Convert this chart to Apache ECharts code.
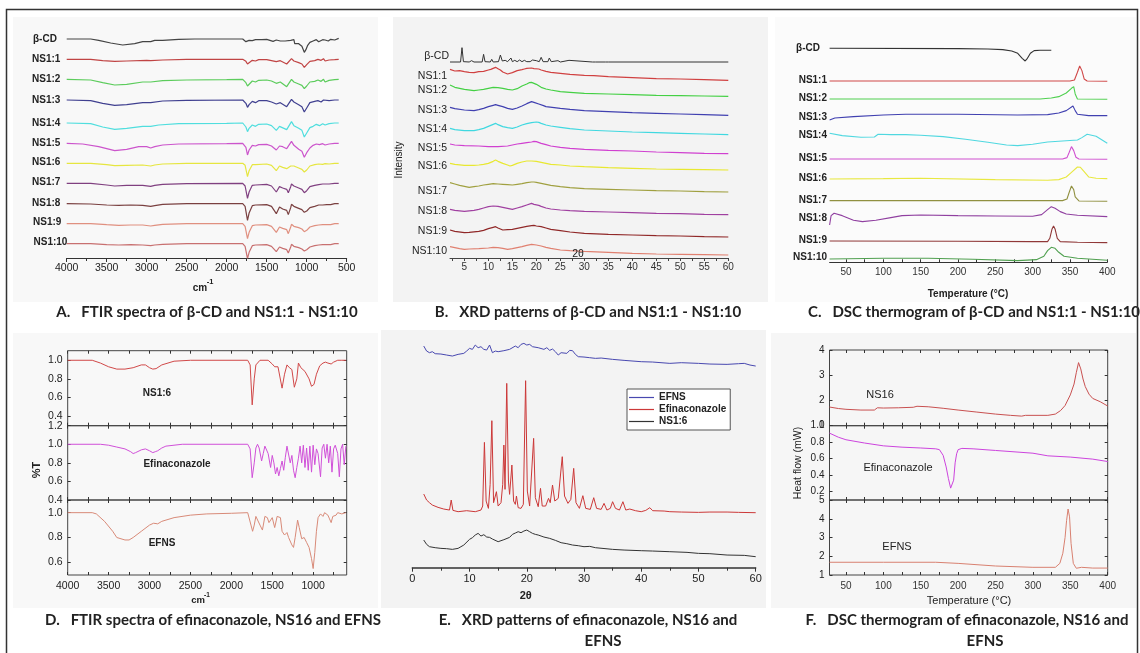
<!DOCTYPE html>
<html>
<head>
<meta charset="utf-8">
<script src="https://cdn.jsdelivr.net/npm/echarts@6/dist/echarts.min.js"></script>
<style>
  html, body { margin: 0; padding: 0; background: #fff; }
  #chart { width: 1140px; height: 653px; }
</style>
</head>
<body>
<div id="chart"></div>
<script>
// ---- A. FTIR of beta-CD and NS1:1 - NS1:10 (stacked traces, arbitrary units) ----
const ftirNames = ["β-CD", "NS1:1", "NS1:2", "NS1:3", "NS1:4", "NS1:5", "NS1:6", "NS1:7", "NS1:8", "NS1:9", "NS1:10"];
const ftirOffsets = [657, 596, 536, 474, 405, 344, 284, 224, 163, 103, 43];
const ftirTicks = [4000, 3500, 3000, 2500, 2000, 1500, 1000, 500];
// [wavenumber, shift from baseline]
const ftirCurves = [
  [[4000,0],[3700,0],[3600,-4],[3450,-12],[3300,-18],[3150,-14],[3050,-8],[2950,-8],[2900,-4],[2800,-4],[2600,-1],[2400,0],[1800,0],[1760,-8],[1720,-4],[1680,-5],[1640,-2],[1560,-2],[1500,-1],[1420,-7],[1380,-3],[1330,-6],[1270,-6],[1200,-4],[1160,-2],[1150,-14],[1130,-8],[1100,-14],[1060,-22],[1030,-40],[1010,-32],[990,-20],[960,-10],[920,-6],[880,-2],[850,-8],[800,-2],[770,-3],[730,-6],[700,-1],[650,-3],[600,2]],
  [[4000,0],[3700,0],[3550,-4],[3400,-6],[3250,-5],[3000,-3],[2950,-4],[2800,-2],[2500,0],[1800,0],[1760,-6],[1740,-14],[1720,-10],[1680,-3],[1640,-5],[1600,-1],[1500,-1],[1440,-4],[1380,-7],[1330,-4],[1250,-14],[1230,-12],[1190,2],[1160,-5],[1100,-10],[1060,-14],[1030,-24],[1000,-16],[960,-6],[900,-4],[860,0],[820,-3],[790,2],[770,-5],[720,-2],[650,-1],[600,0]],
  [[4000,0],[3700,-2],[3550,-10],[3400,-17],[3250,-15],[3050,-8],[2950,-8],[2800,-4],[2500,-2],[2000,-1],[1800,0],[1760,-10],[1740,-20],[1720,-14],[1680,-5],[1640,-8],[1600,-3],[1500,-2],[1440,-5],[1380,-12],[1330,-8],[1250,-22],[1230,-18],[1190,0],[1160,-8],[1100,-14],[1060,-18],[1030,-28],[1000,-20],[960,-8],[900,-6],[860,-2],[820,-6],[790,0],[770,-8],[720,-3],[650,-1],[600,0]],
  [[4000,0],[3700,-2],[3550,-10],[3400,-16],[3250,-14],[3050,-8],[2950,-8],[2800,-3],[2500,-1],[1800,0],[1760,-10],[1740,-22],[1720,-14],[1680,-4],[1640,-8],[1600,-2],[1500,-2],[1440,-6],[1380,-12],[1330,-8],[1250,-20],[1230,-18],[1190,2],[1160,-6],[1100,-14],[1060,-20],[1030,-36],[1000,-24],[960,-8],[900,-4],[860,-2],[820,-6],[790,0],[770,-6],[720,-2],[650,0],[600,0]],
  [[4000,0],[3700,-2],[3550,-12],[3400,-19],[3250,-16],[3050,-10],[2950,-10],[2850,-6],[2600,-2],[2000,-1],[1800,0],[1760,-12],[1740,-26],[1720,-16],[1680,-6],[1640,-10],[1600,-4],[1500,-3],[1440,-8],[1380,-22],[1340,-10],[1250,-20],[1230,-18],[1190,4],[1160,-8],[1100,-16],[1060,-22],[1030,-42],[1000,-30],[960,-14],[920,-10],[880,-4],[840,-8],[800,-2],[770,-6],[720,-2],[650,0],[600,0]],
  [[4000,0],[3800,-2],[3600,-10],[3400,-22],[3250,-18],[3100,-10],[3000,-10],[2950,-14],[2900,-10],[2800,-5],[2600,-2],[2000,-1],[1800,0],[1760,-12],[1740,-35],[1720,-20],[1680,-6],[1640,-8],[1600,-4],[1500,-3],[1440,-8],[1380,-20],[1340,-8],[1300,-10],[1250,-16],[1230,-14],[1190,6],[1160,-6],[1100,-18],[1060,-24],[1030,-42],[1000,-28],[960,-14],[920,-6],[880,-2],[840,-4],[800,-1],[770,-5],[720,-2],[650,0],[600,0]],
  [[4000,0],[3700,0],[3500,-4],[3400,-7],[3250,-6],[3050,-5],[2950,-8],[2900,-5],[2800,-2],[2500,0],[1800,0],[1770,-6],[1740,-40],[1720,-22],[1680,-4],[1640,-4],[1500,-2],[1440,-6],[1380,-22],[1340,-8],[1300,-12],[1250,-16],[1230,-22],[1200,-8],[1190,-2],[1160,-8],[1100,-14],[1060,-18],[1030,-26],[1000,-20],[960,-8],[900,-4],[850,-2],[800,-3],[770,-1],[720,-2],[650,0],[600,0]],
  [[4000,0],[3700,0],[3500,-5],[3400,-8],[3250,-6],[3050,-6],[2950,-9],[2900,-6],[2800,-3],[2500,-1],[1800,0],[1770,-8],[1740,-45],[1720,-26],[1680,-6],[1640,-5],[1500,-3],[1440,-8],[1380,-26],[1340,-10],[1300,-14],[1250,-18],[1230,-28],[1200,-10],[1190,-2],[1160,-8],[1100,-14],[1060,-18],[1030,-28],[1000,-22],[960,-10],[900,-6],[850,-4],[800,-2],[780,-5],[720,-2],[650,0],[600,0]],
  [[4000,0],[3700,-1],[3500,-4],[3350,-5],[3200,-4],[3050,-5],[2950,-8],[2900,-6],[2800,-2],[2500,0],[1800,0],[1770,-8],[1740,-50],[1720,-28],[1680,-6],[1640,-4],[1500,-3],[1440,-8],[1380,-30],[1340,-10],[1300,-16],[1250,-20],[1230,-33],[1200,-12],[1190,-2],[1160,-8],[1100,-14],[1060,-18],[1030,-26],[1000,-22],[960,-12],[900,-8],[850,-4],[800,-4],[780,-10],[750,-3],[700,-3],[650,0],[600,0]],
  [[4000,0],[3700,0],[3500,-3],[3350,-5],[3200,-4],[3050,-4],[2950,-7],[2900,-5],[2800,-2],[2500,0],[1800,0],[1770,-8],[1740,-45],[1720,-26],[1680,-6],[1640,-4],[1500,-3],[1440,-8],[1380,-26],[1340,-10],[1300,-14],[1250,-18],[1230,-30],[1200,-10],[1190,-2],[1160,-8],[1100,-12],[1060,-16],[1030,-24],[1000,-20],[960,-10],[900,-6],[850,-4],[800,-3],[780,-9],[750,-3],[700,-3],[650,0],[600,0]],
  [[4000,0],[3700,0],[3500,-3],[3350,-4],[3200,-3],[3050,-4],[2950,-6],[2900,-4],[2800,-2],[2500,0],[1800,0],[1770,-8],[1740,-45],[1720,-26],[1680,-6],[1640,-4],[1500,-3],[1440,-8],[1380,-24],[1340,-10],[1300,-14],[1250,-18],[1230,-28],[1200,-10],[1190,-2],[1160,-8],[1100,-12],[1060,-16],[1030,-22],[1000,-18],[960,-10],[900,-6],[850,-4],[800,-3],[780,-9],[750,-3],[700,-3],[650,0],[600,0]]
];

// ---- B. XRD of beta-CD and NS1:1 - NS1:10 ----
const xrdTicks = [5, 10, 15, 20, 25, 30, 35, 40, 45, 50, 55, 60];
const xrdBcdBase = 588;
const xrdBcdPeaks = [[2,0],[4.2,0],[4.5,43],[4.8,1],[6,0],[6.5,4],[7,0],[8.7,0],[9,23],[9.3,1],[10.4,0],[10.7,8],[11,0],[12.1,1],[12.5,21],[12.9,3],[13.5,5],[14,1],[14.4,0],[14.7,12],[15,1],[15.5,5],[16,1],[16.5,6],[17,1],[17.5,5],[18,1],[18.3,6],[18.7,1],[19.2,6],[19.6,1],[20,4],[20.6,1],[21,14],[21.4,1],[22.4,1],[22.7,12],[23.1,1],[24.5,4],[25,0],[26.8,5],[27.2,0],[31.7,0],[32,6],[32.3,0],[34.4,0],[34.7,6],[35,0],[60,0]];
const xrdCurves = [
  [[2,566],[3,561],[4,562],[5,559],[6,557],[7,556],[8,559],[9,560],[10,564],[10.5,566],[11,569],[11.5,572],[12,568],[12.5,564],[13,558],[14,552],[15,556],[16,562],[17,565],[17.5,567],[18,569],[19,570],[19.5,568],[20.5,567],[21,564],[22,560],[23,557],[25,554],[27,551],[30,548],[32,547],[35,544],[40,541],[45,538],[50,537],[55,535],[60,533]],
  [[2,519],[3,512],[5,506],[7,502],[8,504],[9,506],[10,509],[11,512],[12,511],[13,509],[14,506],[15,504],[16,508],[17,516],[18,522],[18.5,526],[19,527],[19.5,524],[20,521],[21,512],[22,507],[23,504],[25,499],[27,497],[30,494],[35,492],[40,490],[45,488],[50,487],[55,486],[60,485]],
  [[2,452],[3,448],[5,444],[7,442],[8,445],[9,449],[10,454],[11,458],[11.5,460],[12,458],[13,454],[14,449],[15,446],[16,450],[17,456],[18,463],[19,469],[19.5,467],[20.5,462],[21.5,457],[22,454],[25,449],[27,446],[30,442],[35,439],[40,436],[45,434],[50,432],[55,430],[60,428]],
  [[2,389],[3,385],[5,382],[7,382],[8,385],[9,389],[10,395],[11,401],[11.5,404],[12,400],[13,394],[14,391],[15,389],[16,393],[17,399],[18,403],[19,406],[20,408],[20.5,407],[21,404],[22,399],[23,396],[25,392],[27,388],[30,384],[35,381],[40,378],[45,376],[50,374],[55,372],[60,370]],
  [[2,342],[3,339],[5,337],[8,336],[10,334],[12,334],[14,336],[15,339],[16,342],[17,344],[18,346],[19,348],[19.5,350],[20,349],[21,344],[22,340],[23,336],[25,332],[27,329],[30,326],[35,323],[40,321],[45,318],[50,316],[55,314],[60,313]],
  [[2,284],[3,281],[5,278],[7,278],[8,279],[9,281],[10,284],[11,290],[11.5,294],[12,290],[13,284],[14,279],[14.5,276],[15,278],[16,284],[17,288],[18,291],[19,291],[20,290],[21,287],[22,284],[23,281],[25,279],[27,276],[30,274],[35,271],[40,269],[45,267],[50,266],[55,265],[60,264]],
  [[2,226],[3,222],[4,218],[5,215],[6,212],[7,214],[8,216],[9,219],[10,221],[11,223],[12,222],[13,221],[14,220],[15,219],[16,221],[17,223],[18,226],[19,228],[19.5,228],[20,227],[21,224],[22,221],[23,218],[25,214],[27,211],[30,208],[35,206],[40,204],[45,202],[50,201],[55,199],[60,198]],
  [[2,146],[3,143],[5,140],[7,143],[8,146],[9,150],[10,154],[11,156],[12,155],[13,152],[14,149],[15,146],[16,150],[17,154],[18,159],[19,164],[19.5,161],[20.5,158],[21,155],[22,150],[23,147],[25,144],[27,142],[30,140],[35,138],[40,136],[45,134],[50,133],[55,131],[60,130]],
  [[2,84],[3,80],[5,76],[6,77],[8,80],[9,83],[10,88],[11,92],[11.5,94],[12,90],[13,84],[14,85],[15,86],[16,89],[17,92],[18,95],[19,97],[19.5,98],[20,96],[21,94],[22,90],[23,86],[25,82],[27,78],[30,74],[35,71],[40,69],[45,67],[50,66],[55,64],[60,63]],
  [[2,34],[3,31],[4,28],[5,26],[6,27],[8,28],[10,30],[11,32],[12,31],[13,29],[14,26],[15,28],[16,31],[17,34],[18,38],[19,41],[20,39],[21,36],[22,32],[23,29],[25,24],[27,22],[30,20],[35,17],[40,14],[45,12],[50,11],[55,10],[60,9]]
];

// ---- C. DSC of beta-CD and NS1:1 - NS1:10 ----
const dscTicks = [50, 100, 150, 200, 250, 300, 350, 400];
const dscCurves = [
  [[28,642],[200,641],[240,640],[260,638],[272,634],[280,627],[286,612],[290,604],[293,612],[297,627],[302,635],[310,636],[325,636]],
  [[28,544],[350,544],[356,547],[360,570],[363,589],[366,575],[369,550],[373,544],[400,543]],
  [[28,490],[310,490],[325,493],[335,497],[345,508],[352,522],[355,527],[357,505],[360,490],[400,489]],
  [[28,427],[35,433],[60,437],[100,442],[130,444],[200,444],[280,442],[320,443],[335,448],[345,455],[354,469],[357,455],[360,444],[375,440],[400,440]],
  [[28,387],[45,380],[70,375],[88,376],[93,384],[110,383],[130,383],[150,381],[180,377],[210,369],[240,360],[265,352],[280,350],[300,354],[320,361],[340,364],[360,367],[366,374],[373,384],[385,378],[400,357]],
  [[28,310],[340,310],[346,314],[349,330],[352,347],[355,335],[358,315],[362,310],[400,309]],
  [[28,250],[100,251],[150,252],[250,248],[320,246],[335,248],[345,256],[352,270],[360,286],[364,285],[369,272],[375,256],[385,252],[400,251]],
  [[28,185],[340,185],[346,190],[349,210],[352,229],[355,218],[357,196],[362,184],[400,183]],
  [[28,112],[30,140],[34,147],[45,140],[60,126],[72,122],[90,126],[110,134],[125,140],[150,142],[200,140],[250,139],[300,138],[312,143],[320,158],[325,167],[330,162],[337,152],[345,145],[360,141],[400,137]],
  [[28,64],[200,63],[300,62],[320,62],[323,72],[326,100],[328,109],[330,100],[333,72],[337,62],[360,60],[400,59]],
  [[28,10],[100,12],[160,12],[220,9],[280,5],[305,8],[315,18],[320,35],[325,45],[330,42],[335,30],[342,18],[360,12],[400,6]]
];

// ---- D. FTIR of efinaconazole, NS1:6 and EFNS (%T) ----
const irTicks = [4000, 3500, 3000, 2500, 2000, 1500, 1000];
const irNs16 = [[4000,1.0],[3700,1.0],[3600,0.97],[3500,0.93],[3400,0.905],[3300,0.905],[3200,0.92],[3100,0.95],[3050,0.95],[3000,0.92],[2960,0.905],[2920,0.91],[2850,0.95],[2700,0.99],[2500,1.0],[1800,1.0],[1770,0.95],[1745,0.52],[1720,0.8],[1700,0.95],[1650,1.0],[1550,1.0],[1500,0.96],[1470,0.93],[1430,0.93],[1380,0.70],[1350,0.85],[1320,0.95],[1290,0.92],[1260,0.9],[1230,0.71],[1200,0.80],[1180,0.97],[1150,0.92],[1100,0.88],[1050,0.8],[1020,0.72],[990,0.74],[960,0.85],[920,0.94],[880,0.97],[850,0.98],[820,0.97],[800,0.99],[780,0.96],[750,0.98],[700,1.0],[650,1.0],[600,1.0]];
const irEfina = [[4000,1.0],[3600,1.0],[3500,0.99],[3400,0.97],[3300,0.95],[3230,0.92],[3200,0.90],[3170,0.91],[3150,0.93],[3100,0.94],[3050,0.95],[3000,0.93],[2960,0.91],[2930,0.92],[2900,0.93],[2850,0.96],[2800,0.98],[2600,1.0],[1800,1.0],[1770,0.95],[1745,0.64],[1720,0.8],[1700,0.96],[1680,1.0],[1660,0.96],[1630,0.82],[1610,0.9],[1590,0.98],[1570,0.97],[1550,0.90],[1520,0.75],[1500,0.88],[1480,0.8],[1460,0.68],[1440,0.75],[1420,0.66],[1400,0.74],[1380,0.82],[1360,0.72],[1340,0.86],[1320,0.98],[1300,0.97],[1280,0.8],[1260,0.88],[1240,0.72],[1220,0.64],[1200,0.75],[1180,0.85],[1160,0.98],[1140,0.8],[1120,0.99],[1100,0.75],[1080,0.96],[1060,0.72],[1040,0.98],[1020,0.70],[1000,0.99],[980,0.78],[960,0.95],[940,0.90],[910,0.65],[890,0.96],[870,1.0],[850,0.85],[830,1.0],[810,0.80],[790,0.98],[770,0.70],[750,0.95],[730,0.99],[700,0.90],[680,0.65],[660,0.95],[640,1.0],[620,0.78],[600,0.98]];
const irEfns = [[4000,1.0],[3700,1.0],[3650,0.99],[3550,0.93],[3450,0.85],[3400,0.80],[3300,0.78],[3250,0.78],[3200,0.80],[3100,0.85],[3000,0.90],[2950,0.915],[2900,0.91],[2850,0.93],[2700,0.96],[2500,0.98],[2300,0.99],[2000,0.995],[1800,1.0],[1780,0.99],[1760,0.90],[1740,0.85],[1720,0.9],[1700,0.97],[1680,0.98],[1650,0.90],[1620,0.86],[1590,0.97],[1560,0.96],[1540,0.92],[1500,0.96],[1470,0.88],[1440,0.97],[1400,0.96],[1380,0.85],[1350,0.82],[1320,0.84],[1300,0.80],[1260,0.74],[1240,0.72],[1220,0.8],[1190,0.94],[1170,0.88],[1140,0.79],[1110,0.80],[1080,0.76],[1050,0.72],[1020,0.63],[1000,0.55],[980,0.68],[960,0.85],[940,0.96],[910,0.99],[880,0.97],[860,1.0],[820,0.98],[800,0.95],[780,0.92],[760,0.97],[720,0.98],[700,1.0],[650,0.99],[600,1.0]];

// ---- E. XRD of efinaconazole, NS1:6 and EFNS ----
const xrd2Names = ["EFNS", "Efinaconazole", "NS1:6"];
const xrd2Efns = [[2,665],[2.5,650],[3,645],[3.5,648],[4,642],[5,641],[6,638],[7,635],[8,640],[9,643],[9.5,650],[10,658],[10.5,655],[11,668],[11.5,660],[12,663],[12.5,655],[13,653],[13.5,668],[14,645],[14.5,650],[15,648],[16,651],[17,655],[18,665],[18.5,660],[19,670],[19.5,673],[20,668],[20.5,670],[21,663],[22,660],[23,655],[23.5,660],[24,652],[24.5,656],[25,648],[25.5,638],[26,645],[27,643],[27.5,652],[28,651],[28.5,640],[29,633],[30,632],[31,630],[32,628],[33,629],[35,625],[37,622],[40,618],[42,617],[45,613],[47,615],[50,613],[52,611],[55,610],[57,612],[58,613],[59,608],[60,605]];
const xrd2Efina = [[2,221],[2.5,203],[3,195],[3.5,188],[4.5,181],[5.5,176],[6.5,173],[6.8,203],[7.1,172],[8,168],[9.5,171],[11,168],[12,173],[12.3,185],[12.6,376],[12.9,200],[13.3,178],[13.6,250],[13.9,441],[14.2,195],[14.5,190],[14.7,228],[15,185],[15.5,195],[15.8,250],[16,368],[16.2,235],[16.3,240],[16.5,553],[16.8,260],[17,220],[17.4,308],[17.7,200],[18,190],[18.2,215],[18.5,180],[19,178],[19.4,190],[19.8,561],[20.1,230],[20.5,185],[20.8,183],[21.2,388],[21.5,210],[22,183],[22.4,238],[22.7,185],[23.3,185],[23.8,208],[24.1,195],[24.5,248],[24.9,200],[25.2,203],[25.5,208],[25.8,212],[26.2,333],[26.6,215],[27.2,193],[27.7,205],[28.2,298],[28.6,195],[29.2,178],[29.8,216],[30.3,178],[31.1,175],[31.7,210],[32.2,178],[33,175],[33.5,193],[34,173],[34.6,178],[35,198],[35.5,178],[36.2,173],[36.8,198],[37.3,173],[38,176],[39,171],[40,168],[40.8,172],[41.5,180],[42,171],[44,170],[45,168],[47,167],[50,166],[52,167],[55,167],[57,166],[60,165]];
const xrd2Ns16 = [[2,83],[2.5,70],[3,63],[4,60],[5,58],[6,57],[7,55],[8,58],[8.5,63],[9,68],[10,85],[10.5,90],[11,98],[11.5,103],[12,95],[12.5,99],[13,92],[13.5,91],[14,86],[15,78],[16,84],[17,91],[17.5,100],[18,104],[18.5,108],[19,105],[19.5,110],[20,113],[20.5,108],[21,103],[21.5,100],[22,98],[22.5,95],[23,92],[24,88],[25,82],[26,75],[27,72],[28,68],[29,66],[30,63],[31,64],[32,60],[35,55],[37,53],[40,51],[42,50],[45,48],[48,46],[50,43],[52,42],[55,38],[58,37],[60,33]];

// ---- F. DSC of efinaconazole, NS16 and EFNS (mW) ----
const dsc2Ns16 = [[28,1.74],[40,1.68],[50,1.65],[70,1.62],[88,1.62],[92,1.71],[100,1.70],[120,1.71],[140,1.73],[145,1.77],[160,1.75],[180,1.69],[200,1.62],[225,1.54],[250,1.46],[270,1.41],[285,1.38],[290,1.41],[320,1.41],[330,1.46],[337,1.60],[343,1.80],[350,2.22],[355,2.65],[358,3.1],[361,3.5],[364,3.25],[367,2.85],[370,2.55],[375,2.25],[380,2.08],[390,1.95],[400,1.78]];
const dsc2Efina = [[28,0.91],[40,0.86],[50,0.83],[75,0.79],[100,0.756],[125,0.74],[150,0.73],[170,0.72],[175,0.71],[180,0.64],[184,0.50],[187,0.36],[190,0.244],[192,0.24],[194,0.34],[196,0.55],[198,0.66],[200,0.71],[205,0.725],[220,0.72],[250,0.70],[300,0.667],[320,0.635],[350,0.62],[380,0.595],[400,0.566]];
const dsc2Efns = [[28,1.68],[100,1.68],[170,1.68],[200,1.62],[250,1.48],[300,1.41],[330,1.41],[336,1.62],[340,2.16],[343,3.0],[345,3.9],[347,4.52],[349,4.1],[351,2.69],[354,1.62],[358,1.36],[365,1.41],[380,1.37],[400,1.37]];

// ------------------------------------------------------------------
const FONT = '"Liberation Sans", Arial, sans-serif';
const CAP = 'Lato, "Open Sans", sans-serif';
let chart = echarts.init(document.getElementById("chart"));
let grids = [], xAxes = [], yAxes = [], series = [], graphic = [];

function plain(v) { return String(v); }

function panel(g, xo, yo, mirror) {
  let gi = grids.length;
  grids.push(Object.assign({ outerBoundsMode: "none", containLabel: false }, g));
  let xi = xAxes.length, yi = yAxes.length;
  xAxes.push(Object.assign({ type: "value", gridIndex: gi, splitLine: { show: false } }, xo));
  yAxes.push(Object.assign({ type: "value", gridIndex: gi, splitLine: { show: false } }, yo));
  if (mirror) {
    xAxes.push({
      type: "value", gridIndex: gi, position: "top", min: xo.min, max: xo.max, inverse: xo.inverse,
      axisLine: { show: false }, axisLabel: { show: false }, splitLine: { show: false },
      axisTick: { inside: true, length: 3, lineStyle: { color: "#333" }, customValues: xo.axisTick.customValues }
    });
    yAxes.push({
      type: "value", gridIndex: gi, position: "right", min: yo.min, max: yo.max,
      axisLine: { show: false }, axisLabel: { show: false }, splitLine: { show: false },
      axisTick: { inside: true, length: 3, lineStyle: { color: "#333" }, customValues: yo.axisTick.customValues }
    });
  }
  return { xi: xi, yi: yi };
}

function line(ax, data, color, name, width) {
  let s = {
    type: "line", xAxisIndex: ax.xi, yAxisIndex: ax.yi, data: data, symbol: "none",
    lineStyle: { color: color, width: width || 1 }, itemStyle: { color: color },
    silent: true, animation: false, z: 3
  };
  if (name) s.name = name;
  series.push(s);
}

function text(t, x, y, font, align, extra) {
  graphic.push(Object.assign({
    type: "text", x: x, y: y, silent: true, z: 10,
    style: { text: t, font: font, fill: "#222", textAlign: align || "center", textVerticalAlign: "middle" }
  }, extra || {}));
}

function ticksEvery(from, to, step) {
  let out = [];
  for (let v = from; v <= to + 1e-9; v += step) out.push(Math.round(v * 1000) / 1000);
  return out;
}

// panel backgrounds + frame
[[13, 17, 365, 285, "#f8f8f8"], [393, 17, 375, 285, "#f3f3f3"], [775, 17, 361, 285, "#fbfbfb"],
 [13, 333, 365, 275, "#f8f8f8"], [381, 330, 385, 278, "#f3f3f3"], [771, 333, 365, 275, "#f6f6f6"]].forEach(function (r) {
  graphic.push({ type: "rect", shape: { x: r[0], y: r[1], width: r[2], height: r[3] }, style: { fill: r[4] }, silent: true, z: -5 });
});
graphic.push({ type: "rect", shape: { x: 6.5, y: 9.5, width: 1131, height: 680 }, style: { fill: "none", stroke: "#333", lineWidth: 1.5 }, silent: true, z: 20 });

// ---- A ----
const colA = ["#444444", "#c04444", "#5ccc5c", "#404090", "#50dede", "#cc55cc", "#e6e640", "#804080", "#7a4040", "#e09080", "#c87070"];
let axA = panel(
  { left: 66.7, top: 18, width: 280, height: 240 },
  { min: 500, max: 4000, inverse: true, interval: 500,
    axisLine: { lineStyle: { color: "#333" } },
    axisTick: { length: 4, lineStyle: { color: "#333" } },
    minorTick: { show: true, splitNumber: 2, length: 3, lineStyle: { color: "#333" } },
    axisLabel: { fontFamily: FONT, fontSize: 10.5, color: "#222", margin: 5, showMinLabel: true, showMaxLabel: true, formatter: plain } },
  { show: false, min: 0, max: 720 }
);
ftirCurves.forEach(function (c, i) {
  line(axA, c.map(function (p) { return [p[0], ftirOffsets[i] + p[1]]; }), colA[i], null, 1.2);
});
const ftirLabelPos = [[33, 39], [32, 59.3], [32, 79.3], [32, 100], [32, 123], [32, 143.3], [32, 162.7], [32, 182.7], [32, 203.3], [33, 222.7], [33.5, 242.7]];
ftirNames.forEach(function (n, i) {
  text(n, ftirLabelPos[i][0], ftirLabelPos[i][1], "bold 10px " + FONT, "left");
});
text("cm", 200, 288, "bold 10px " + FONT);
text("-1", 210, 282, "bold 7.5px " + FONT);

// ---- B ----
const colB = ["#333333", "#d04040", "#44d044", "#4040b0", "#40d8e0", "#d040d0", "#e8e830", "#a0a040", "#a040a0", "#902828", "#e08070"];
let axB = panel(
  { left: 450, top: 18, width: 278.3, height: 240 },
  { min: 2, max: 60,
    axisLine: { lineStyle: { color: "#444" } },
    axisTick: { length: 3, lineStyle: { color: "#444" }, customValues: ticksEvery(2.5, 60, 2.5) },
    axisLabel: { fontFamily: FONT, fontSize: 10, color: "#333", margin: 4, customValues: xrdTicks, formatter: plain } },
  { show: false, min: 0, max: 720 }
);
line(axB, xrdBcdPeaks.map(function (p) { return [p[0], xrdBcdBase + p[1]]; }), colB[0]);
xrdCurves.forEach(function (c, i) { line(axB, c, colB[i + 1], null, 1.2); });
const xrdLabelY = [56, 75.7, 90, 110, 129, 148.3, 165.7, 190.7, 210.7, 231, 250.7];
ftirNames.forEach(function (n, i) {
  text(n, i === 0 ? 449 : 447, xrdLabelY[i], "10.5px " + FONT, "right");
});
text("2θ", 578, 254, "10.5px " + FONT);
text("Intensity", 399, 160, "10px " + FONT, "center", { rotation: Math.PI / 2 });

// ---- C ----
const colC = ["#333333", "#d04848", "#50d050", "#4040b0", "#50d8e0", "#d050d0", "#e8e840", "#909040", "#9040a0", "#903838", "#50a050"];
let axC = panel(
  { left: 829.6, top: 22.3, width: 277.7, height: 240 },
  { min: 28, max: 400,
    axisLine: { lineStyle: { color: "#333" } },
    axisTick: { inside: true, length: 3, lineStyle: { color: "#333" }, customValues: ticksEvery(50, 400, 25) },
    axisLabel: { fontFamily: FONT, fontSize: 10, color: "#333", margin: 5, customValues: dscTicks, formatter: plain } },
  { show: false, min: 0, max: 720 }
);
dscCurves.forEach(function (c, i) { line(axC, c, colC[i], null, 1.1); });
const dscLabelY = [48.3, 80, 98.7, 117.3, 135.7, 158.3, 178.3, 200, 218.3, 240.7, 257.3];
ftirNames.forEach(function (n, i) {
  text(n, i === 0 ? 820 : 827, dscLabelY[i], "bold 10px " + FONT, "right");
});
text("Temperature (°C)", 968, 294, "bold 10px " + FONT);

// ---- D ----
function irX(showLabels) {
  return { min: 590, max: 4000, inverse: true,
    axisLine: { show: false },
    axisTick: { inside: true, length: 3, lineStyle: { color: "#333" }, customValues: ticksEvery(750, 4000, 250) },
    axisLabel: { show: showLabels, fontFamily: FONT, fontSize: 10.5, color: "#222", margin: 6, customValues: irTicks, formatter: plain } };
}
function valY(min, max, labels, dec, fs) {
  return { min: min, max: max,
    axisLine: { show: false },
    axisTick: { inside: true, length: 3, lineStyle: { color: "#333" }, customValues: labels },
    axisLabel: { fontFamily: FONT, fontSize: fs || 10.5, color: "#222", margin: 5, customValues: labels,
      formatter: function (v) { return dec ? v.toFixed(dec) : String(Math.round(v)); } } };
}
const frame = { show: true, borderColor: "#444", borderWidth: 1, backgroundColor: "transparent" };
let axD1 = panel(Object.assign({ left: 67.7, top: 350.7, width: 279, height: 75 }, frame), irX(false), valY(0.296, 1.103, [0.4, 0.6, 0.8, 1.0], 1), true);
let axD2 = panel(Object.assign({ left: 67.7, top: 425.7, width: 279, height: 74.3 }, frame), irX(false), valY(0.4, 1.2, [0.4, 0.6, 0.8, 1.0, 1.2], 1), true);
let axD3 = panel(Object.assign({ left: 67.7, top: 500, width: 279, height: 75 }, frame), irX(true), valY(0.498, 1.102, [0.6, 0.8, 1.0], 1), true);
line(axD1, irNs16, "#d04848");
line(axD2, irEfina, "#d050d8");
line(axD3, irEfns, "#d88a78");
text("NS1:6", 157, 393, "bold 10px " + FONT);
text("Efinaconazole", 177, 464, "bold 10px " + FONT);
text("EFNS", 162, 543, "bold 10px " + FONT);
text("%T", 37, 470, "bold 11px " + FONT, "center", { rotation: Math.PI / 2 });
text("cm", 198, 600, "bold 9.5px " + FONT);
text("-1", 207, 595, "bold 6.5px " + FONT);

// ---- E ----
let axE = panel(
  { left: 412.3, top: 337.7, width: 343.4, height: 230 },
  { min: 0, max: 60, interval: 10,
    axisLine: { lineStyle: { color: "#333", width: 1.5 } },
    axisTick: { length: 4, lineStyle: { color: "#333" } },
    minorTick: { show: true, splitNumber: 2, length: 3, lineStyle: { color: "#333" } },
    axisLabel: { fontFamily: FONT, fontSize: 11, color: "#222", margin: 6, showMinLabel: true, showMaxLabel: true, formatter: plain } },
  { show: false, min: 0, max: 690 }
);
line(axE, xrd2Efns, "#4848b0", xrd2Names[0]);
line(axE, xrd2Efina, "#cc3838", xrd2Names[1]);
line(axE, xrd2Ns16, "#333333", xrd2Names[2]);
text("2θ", 525.7, 595.7, "bold 11px " + FONT);

// ---- F ----
function tX(showLabels) {
  return { min: 28, max: 400,
    axisLine: { show: false },
    axisTick: { inside: true, length: 3, lineStyle: { color: "#333" }, customValues: ticksEvery(50, 400, 25) },
    axisLabel: { show: showLabels, fontFamily: FONT, fontSize: 10, color: "#333", margin: 6, customValues: dscTicks, formatter: plain } };
}
let axF1 = panel(Object.assign({ left: 829.5, top: 350, width: 278.2, height: 75.7 }, frame), tX(false), valY(1, 4, [1, 2, 3, 4], 0, 10), true);
let axF2 = panel(Object.assign({ left: 829.5, top: 425.7, width: 278.2, height: 74.3 }, frame), tX(false), valY(0.1, 1.0, [0.2, 0.4, 0.6, 0.8, 1.0], 1, 10), true);
let axF3 = panel(Object.assign({ left: 829.5, top: 500, width: 278.2, height: 75 }, frame), tX(true), valY(1, 5, [1, 2, 3, 4, 5], 0, 10), true);
line(axF1, dsc2Ns16, "#c85050");
line(axF2, dsc2Efina, "#cc44dd");
line(axF3, dsc2Efns, "#d88070");
text("NS16", 880, 395, "11px " + FONT);
text("Efinaconazole", 898, 468, "11px " + FONT);
text("EFNS", 897, 547, "11px " + FONT);
text("Heat flow (mW)", 798, 463, "10.5px " + FONT, "center", { rotation: Math.PI / 2 });
text("Temperature (°C)", 969, 601, "11px " + FONT);

// ---- captions ----
const capFont = "bold 15px " + CAP;
text("A.   FTIR spectra of β-CD and NS1:1 - NS1:10", 207, 312, capFont);
text("B.   XRD patterns of β-CD and NS1:1 - NS1:10", 588, 312, capFont);
text("C.   DSC thermogram of β-CD and NS1:1 - NS1:10", 974, 312, capFont);
text("D.   FTIR spectra of efinaconazole, NS16 and EFNS", 213, 620, capFont);
text("E.   XRD patterns of efinaconazole, NS16 and", 588, 620, capFont);
text("EFNS", 603, 641, capFont);
text("F.   DSC thermogram of efinaconazole, NS16 and", 967, 620, capFont);
text("EFNS", 985, 641, capFont);

let option = {
  animation: false,
  backgroundColor: "#ffffff",
  grid: grids,
  xAxis: xAxes,
  yAxis: yAxes,
  legend: {
    data: xrd2Names, orient: "vertical", left: 627, top: 389,
    icon: "rect", itemWidth: 25, itemHeight: 1.2, itemGap: 1,
    padding: [3, 4, 3, 2], borderColor: "#555", borderWidth: 1, backgroundColor: "#fff",
    selectedMode: false,
    textStyle: { fontFamily: FONT, fontSize: 10, fontWeight: "bold", color: "#222", lineHeight: 11 }
  },
  series: series,
  graphic: { elements: graphic }
};
chart.setOption(option);
window.addEventListener("resize", function () { chart.resize(); });
</script>
</body>
</html>
